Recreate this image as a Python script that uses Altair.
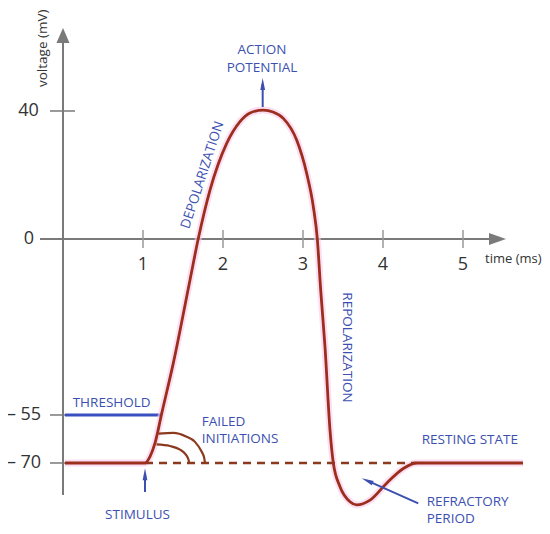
import altair as alt
import pandas as pd

# ---- data (time in ms, voltage in mV) ----
curve_t = [0.025, 1.025, 1.0875, 1.15, 1.234, 1.379, 1.5875, 1.69, 1.8375, 2.046, 2.2125, 2.3375,
           2.504, 2.625, 2.754, 2.921, 3.046, 3.129, 3.179, 3.221, 3.275, 3.3375, 3.379, 3.4625,
           3.5875, 3.671, 3.8375, 4.046, 4.254, 4.421, 5.75]
curve_v = [-70, -70, -68.0, -63.8, -54.5, -38.8, -12.8, 0, 15.3, 29.9, 36.7, 39.4,
           40.3, 39.7, 37.7, 30.9, 20.5, 10.1, 0, -15.9, -33.7, -59.7, -70, -77.4,
           -82.1, -83.1, -81.6, -76.3, -71.7, -70, -70]

fail_outer_t = [1.194, 1.379, 1.5375, 1.65, 1.734, 1.765, 1.775]
fail_outer_v = [-60.8, -60.6, -61.7, -63.4, -66.5, -68.4, -70]
fail_inner_t = [1.169, 1.3375, 1.4625, 1.53, 1.566, 1.579]
fail_inner_v = [-64.2, -64.7, -65.8, -67.2, -68.75, -70]

dash_t = [1.025, 4.42]
dash_v = [-70, -70]
thr_t = [0.025, 1.22]
thr_v = [-55, -55]

ytick_vals = [40, -55, -70]
ytick_labels = ["40", "0", "– 55", "– 70"]
ytick_label_t = [-0.431, -0.425, -0.4875, -0.4875]
ytick_label_v = [40, 0, -55, -70]
xtick_vals = [1, 2, 3, 4, 5]
xtick_labels = ["1", "2", "3", "4", "5"]

blue_labels = ["ACTION", "POTENTIAL", "STIMULUS"]
blue_t = [2.4875, 2.4875, 0.931]
blue_v = [59.06, 53.34, -86.25]
left_labels = ["THRESHOLD", "FAILED", "INITIATIONS", "RESTING STATE", "REFRACTORY", "PERIOD"]
left_t = [0.121, 1.734, 1.734, 4.484, 4.546, 4.546]
left_v = [-51.16, -57.1, -62.6, -62.8, -82.1, -87.6]

# ---- scales ----
XD = [-0.6875, 5.9875]
YD = [-89.6875, 72.1875]
xs = alt.Scale(domain=XD, nice=False, zero=False)
ys = alt.Scale(domain=YD, nice=False, zero=False)

RED = "#9c2e1e"
BROWN = "#8c3a1e"
BLUE = "#3c50b0"
AXIS = "#7a7a7a"
TXT = "#333333"
FONT = "Open Sans"


def line_layer(t, v, **kw):
    df = pd.DataFrame({"t": t, "v": v, "o": list(range(len(t)))})
    return alt.Chart(df).mark_line(**kw).encode(
        x=alt.X("t:Q", scale=xs, axis=None),
        y=alt.Y("v:Q", scale=ys, axis=None),
        order="o:O",
    )


def seg_layer(df, **kw):
    return alt.Chart(df).mark_rule(**kw).encode(
        x=alt.X("t:Q", scale=xs, axis=None),
        x2="t2:Q",
        y=alt.Y("v:Q", scale=ys, axis=None),
        y2="v2:Q",
    )


def text_layer(t, v, labels, **kw):
    df = pd.DataFrame({"t": t, "v": v, "label": labels})
    return alt.Chart(df).mark_text(**kw).encode(
        x=alt.X("t:Q", scale=xs, axis=None),
        y=alt.Y("v:Q", scale=ys, axis=None),
        text="label:N",
    )


def head_layer(t, v, angle, size, path, color):
    df = pd.DataFrame({"t": [t], "v": [v]})
    return alt.Chart(df).mark_point(shape=path, size=size, filled=True, color=color,
                                    opacity=1, angle=angle, strokeWidth=0).encode(
        x=alt.X("t:Q", scale=xs, axis=None),
        y=alt.Y("v:Q", scale=ys, axis=None),
    )


layers = []

# axes
axes_df = pd.DataFrame({"t": [0, -0.2875], "t2": [0, 5.43], "v": [-80, 0], "v2": [63.5, 0]})
layers.append(seg_layer(axes_df, color=AXIS, strokeWidth=2))
ytk = pd.DataFrame({"t": [-0.1625] * 3, "t2": [0.15] * 3, "v": ytick_vals, "v2": ytick_vals})
layers.append(seg_layer(ytk, color=AXIS, strokeWidth=1.5))
xtk = pd.DataFrame({"t": xtick_vals, "t2": xtick_vals, "v": [2.8] * 5, "v2": [-2.8] * 5})
layers.append(seg_layer(xtk, color="#999999", strokeWidth=1.5))
layers.append(head_layer(0, 63.6, 0, 225, "M0,-1L0.87,1L-0.87,1Z", AXIS))
layers.append(head_layer(5.431, 0, 90, 289, "M0,-1L0.7,1L-0.7,1Z", AXIS))

# threshold
layers.append(line_layer(thr_t, thr_v, color="#3a4fc0", strokeWidth=3))

# glow + curves
layers.append(line_layer(curve_t, curve_v, color="#fbc8ea", strokeWidth=7, interpolate="monotone", opacity=0.6))
layers.append(line_layer(dash_t, dash_v, color=BROWN, strokeWidth=2.5, strokeDash=[8, 6]))
layers.append(line_layer(fail_outer_t, fail_outer_v, color=BROWN, strokeWidth=2.2, interpolate="monotone"))
layers.append(line_layer(fail_inner_t, fail_inner_v, color=BROWN, strokeWidth=2.2, interpolate="monotone"))
layers.append(line_layer(curve_t, curve_v, color=RED, strokeWidth=2.8, interpolate="monotone"))

# blue arrows
arrows = pd.DataFrame({"t": [2.496, 1.025, 4.441], "t2": [2.496, 1.025, 3.8025],
                       "v": [41.25, -79.06, -82.6], "v2": [48.4, -73.5, -75.53]})
layers.append(seg_layer(arrows, color=BLUE, strokeWidth=2))
ap = "M0,-1L0.4,1L-0.4,1Z"
layers.append(head_layer(2.496, 48.4, 0, 144, ap, BLUE))
layers.append(head_layer(1.025, -73.5, 0, 144, ap, BLUE))
layers.append(head_layer(3.8025, -75.53, 294, 144, ap, BLUE))

# texts
layers.append(text_layer(ytick_label_t, ytick_label_v, ytick_labels, font=FONT, fontSize=18,
                         color=TXT, align="center", baseline="middle"))
layers.append(text_layer(xtick_vals, [-8.125] * 5, xtick_labels, font=FONT, fontSize=18,
                         color=TXT, align="center", baseline="middle"))
layers.append(text_layer([-0.256], [47.5], ["voltage (mV)"], font=FONT, fontSize=13.5,
                         color=TXT, align="left", baseline="middle", angle=270))
layers.append(text_layer([5.275], [-6.25], ["time (ms)"], font=FONT, fontSize=13,
                         color=TXT, align="left", baseline="middle"))
layers.append(text_layer(blue_t, blue_v, blue_labels, font=FONT, fontSize=13.5,
                         color=BLUE, align="center", baseline="middle"))
layers.append(text_layer(left_t, left_v, left_labels, font=FONT, fontSize=13.5,
                         color=BLUE, align="left", baseline="middle"))
layers.append(text_layer([1.744], [20.0], ["DEPOLARIZATION"], font=FONT, fontSize=13.5,
                         color=BLUE, align="center", baseline="middle", angle=288))
layers.append(text_layer([3.55], [-33.9], ["REPOLARIZATION"], font=FONT, fontSize=13.5,
                         color=BLUE, align="center", baseline="middle", angle=90))

chart = alt.layer(*layers).properties(
    width=534, height=518, padding=0, autosize=alt.AutoSizeParams(type="none"),
    background="white",
).configure_view(strokeWidth=0)

chart.save("out.html", embed_options={"renderer": "svg", "actions": False})
